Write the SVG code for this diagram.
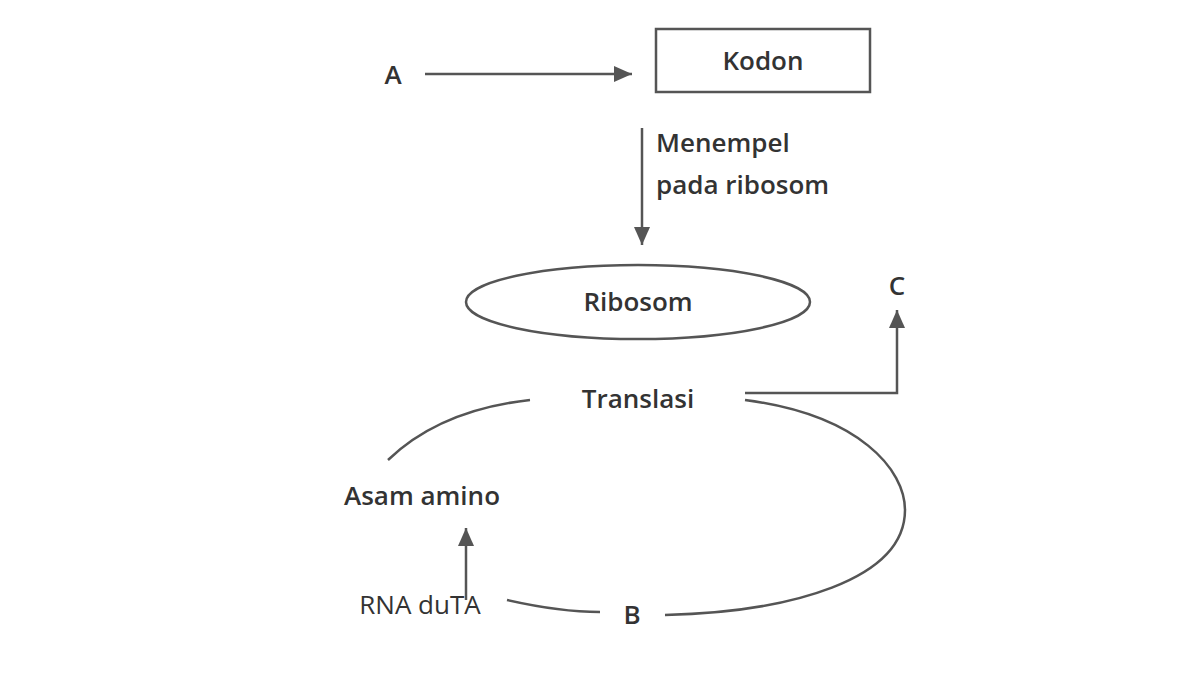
<svg xmlns="http://www.w3.org/2000/svg" width="1200" height="675" viewBox="0 0 1200 675">
<style>
text{font-family:"Open Sans","Liberation Sans",sans-serif;fill:#333;font-size:26px}
.b{font-weight:600}
.ln{fill:none;stroke:#555;stroke-width:2.5}
</style>
<defs><marker id="ah2" markerWidth="20" markerHeight="20" refX="18" refY="8" orient="auto" markerUnits="userSpaceOnUse"><path d="M0,0 L18,8 L0,16 Z" fill="#555"/></marker></defs>
<rect width="1200" height="675" fill="#fff"/>
<g id="connectors">
<line class="ln" x1="425" y1="74" x2="632" y2="74" marker-end="url(#ah2)"/>
<line class="ln" x1="642" y1="128" x2="642" y2="245" marker-end="url(#ah2)"/>
<polyline class="ln" points="745,393 897,393 897,310" marker-end="url(#ah2)"/>
<path class="ln" d="M388,460 Q440,410 530,400"/>
<path class="ln" d="M745,400 C860,415 905,470 905,510 C905,580 790,612 665,615"/>
<path class="ln" d="M507,600 Q560,612 600,612"/>
<line class="ln" x1="466" y1="600" x2="466" y2="528" marker-end="url(#ah2)"/>
</g>
<g id="A"><text x="393" y="84" class="b" text-anchor="middle">A</text></g>
<g id="kodon"><rect x="656" y="29" width="214" height="63" fill="none" stroke="#555" stroke-width="2.5"/><text x="763" y="70" class="b" text-anchor="middle">Kodon</text></g>
<g id="label"><text x="656" y="152" class="b">Menempel</text><text x="656" y="194" class="b">pada ribosom</text></g>
<g id="ribosom"><ellipse cx="638" cy="302" rx="172" ry="37" fill="none" stroke="#555" stroke-width="2.5"/><text x="638" y="311" class="b" text-anchor="middle">Ribosom</text></g>
<g id="C"><text x="897" y="295" class="b" text-anchor="middle">C</text></g>
<g id="translasi"><text x="638" y="408" class="b" text-anchor="middle">Translasi</text></g>
<g id="asam"><text x="422" y="505" class="b" text-anchor="middle">Asam amino</text></g>
<g id="rna"><text x="420" y="614" text-anchor="middle" font-size="22">RNA duTA</text></g>
<g id="B"><text x="632" y="624" class="b" text-anchor="middle">B</text></g>
</svg>
